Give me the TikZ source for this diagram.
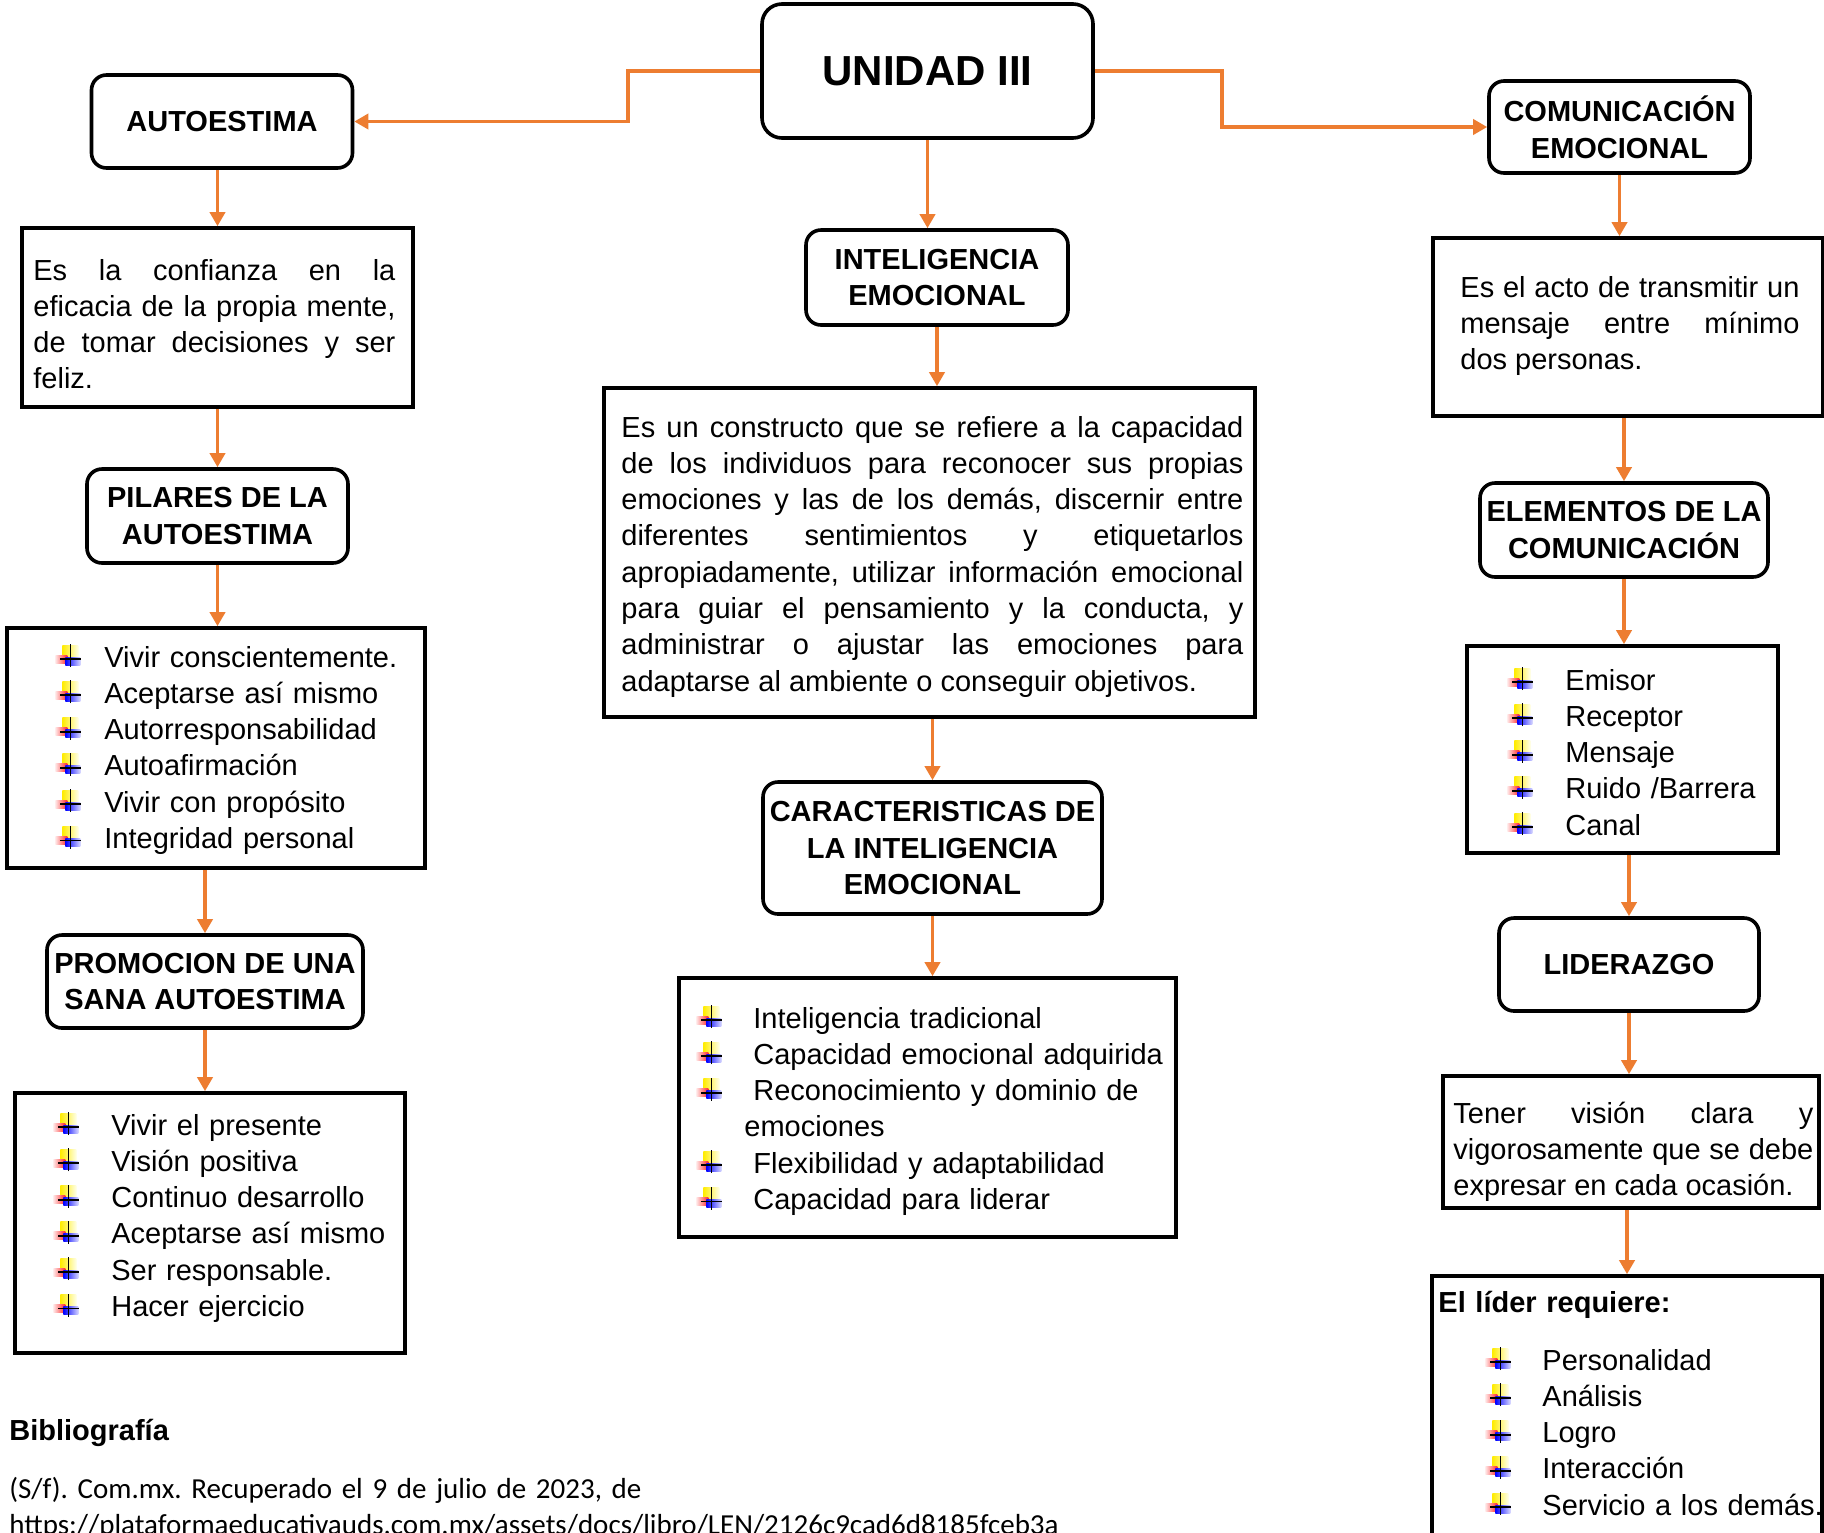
\documentclass[tikz,border=0pt]{standalone}
\usepackage{fontspec}
\setmainfont{Liberation Sans}
\newfontfamily\biblfont{Carlito}
\usetikzlibrary{arrows.meta}
\definecolor{arrorange}{HTML}{ED7D31}
\frenchspacing
\tolerance=10000
\hbadness=10000
\hfuzz=40pt

\newcommand{\bodyfont}{\fontsize{14.5}{18.15}\selectfont}
\newcommand{\headfont}{\fontsize{14.5}{18.3}\selectfont\bfseries}
% word style plus bullet
\newcommand{\plusbul}{\tikz[x=1pt,y=1pt,baseline=0pt,line width=0.9pt]{%
  \shade[left color=yellow!85!orange, right color=yellow!8] (3.5,3.5) rectangle (11.5,11);
  \shade[left color=red!10, right color=red!85] (0,2) rectangle (6,6);
  \shade[left color=blue, right color=blue!15] (5,1) rectangle (12.5,5);
  \draw (7.5,0) -- (7.5,11.5) (2.5,4) -- (13,4);}}
\newcommand{\bitem}[1][29pt]{\makebox[#1][l]{\plusbul}}

\tikzset{
    concept/.style={draw, line width=1.8pt, rounded corners=7.5pt, align=center, inner sep=1pt, font=\headfont},
    infobox/.style={draw, line width=1.8pt, inner sep=0pt},
    infotext/.style={anchor=base west, inner sep=0pt, font=\bodyfont, text width=#1},
    arr/.style={draw=arrorange, line width=1.8pt, -{Triangle[width=7.5pt,length=7pt]}}
}

\begin{document}
\begin{tikzpicture}[x=0.5pt,y=-0.5pt]
\path[fill=white, use as bounding box] (0,0) rectangle (1824,1532);

\node[concept, rounded corners=10pt, font=\fontsize{21}{25}\selectfont\bfseries, minimum width=165.5pt, minimum height=67pt] (unidad) at (927.5,71) {UNIDAD III};

% left column
\node[concept, minimum width=130.5pt, minimum height=46.5pt] (autoestima) at (222,121.5) {AUTOESTIMA};
\node[infobox, minimum width=195.5pt, minimum height=89.5pt] (autodef) at (217.5,317.5) {};
\node[infotext=181pt, align=justify] (autodeftxt) at (33,280) {Es la confianza en la\linebreak eficacia de la propia mente,\linebreak de tomar decisiones y ser\linebreak feliz.};
\node[concept, minimum width=130.5pt, minimum height=47pt] (pilares) at (217.5,516) {PILARES DE LA\\AUTOESTIMA};
\node[infobox, minimum width=209pt, minimum height=120pt] (pilareslist) at (216,748) {};
\node[infotext=190pt, align=left] (pilarestxt) at (55,667) {\bitem[24.5pt]Vivir conscientemente.\\\bitem[24.5pt]Aceptarse así mismo\\\bitem[24.5pt]Autorresponsabilidad\\\bitem[24.5pt]Autoafirmación\\\bitem[24.5pt]Vivir con propósito\\\bitem[24.5pt]Integridad personal};
\node[concept, minimum width=158pt, minimum height=46.5pt] (promo) at (205,981.5) {PROMOCION DE UNA\\SANA AUTOESTIMA};
\node[infobox, minimum width=195pt, minimum height=130pt] (promolist) at (210,1223) {};
\node[infotext=180pt, align=left] (promotxt) at (53,1135) {\bitem Vivir el presente\\\bitem Visión positiva\\\bitem Continuo desarrollo\\\bitem Aceptarse así mismo\\\bitem Ser responsable.\\\bitem Hacer ejercicio};

% middle column
\node[concept, minimum width=131pt, minimum height=47.5pt] (intel) at (937,277.5) {INTELIGENCIA\\EMOCIONAL};
\node[infobox, minimum width=325.5pt, minimum height=164.5pt] (inteldef) at (929.5,552.5) {};
\node[infotext=311pt, align=justify] (inteldeftxt) at (621,437) {Es un constructo que se refiere a la capacidad\linebreak de los individuos para reconocer sus propias\linebreak emociones y las de los demás, discernir entre\linebreak diferentes sentimientos y etiquetarlos\linebreak apropiadamente, utilizar información emocional\linebreak para guiar el pensamiento y la conducta, y\linebreak administrar o ajustar las emociones para\linebreak adaptarse al ambiente o conseguir objetivos.};
\node[concept, minimum width=169.5pt, minimum height=66pt] (caract) at (932.5,848) {CARACTERISTICAS DE\\LA INTELIGENCIA\\EMOCIONAL};
\node[infobox, minimum width=248.5pt, minimum height=129.5pt] (caractlist) at (927.5,1107.5) {};
\node[infotext=238pt, align=left] (caracttxt) at (696,1028) {\bitem[28.5pt]Inteligencia tradicional\\\bitem[28.5pt]Capacidad emocional adquirida\\\bitem[28.5pt]Reconocimiento y dominio de\\\hspace*{24pt}emociones\\\bitem[28.5pt]Flexibilidad y adaptabilidad\\\bitem[28.5pt]Capacidad para liderar};

% right column
\node[concept, minimum width=130.5pt, minimum height=46pt] (comun) at (1619.5,127) {COMUNICACIÓN\\EMOCIONAL};
\node[infobox, minimum width=195pt, minimum height=89pt] (comundef) at (1628,327) {};
\node[infotext=169.5pt, align=justify] (comundeftxt) at (1460,297) {Es el acto de transmitir un\linebreak mensaje entre mínimo\linebreak dos personas.};
\node[concept, minimum width=144pt, minimum height=47pt] (elem) at (1624,530) {ELEMENTOS DE LA\\COMUNICACIÓN};
\node[infobox, minimum width=155.5pt, minimum height=103.5pt] (elemlist) at (1622.5,749.5) {};
\node[infotext=130pt, align=left] (elemtxt) at (1507,690) {\bitem Emisor\\\bitem Receptor\\\bitem Mensaje\\\bitem Ruido /Barrera\\\bitem Canal};
\node[concept, minimum width=130pt, minimum height=46.5pt] (lider) at (1629,964.5) {LIDERAZGO};
\node[infobox, minimum width=188pt, minimum height=66pt] (liderdef) at (1631,1142) {};
\node[infotext=180pt, align=justify] (liderdeftxt) at (1453,1123) {Tener visión clara y\linebreak vigorosamente que se debe\linebreak expresar en cada ocasión.};
\node[infobox, minimum width=195pt, minimum height=142pt] (req) at (1627,1418) {};
\node[infotext=205pt, align=left] (reqtxt) at (1438,1312) {\textbf{El líder requiere:}\\[10.85pt]\hspace*{23.5pt}\bitem[28.5pt]Personalidad\\\hspace*{23.5pt}\bitem[28.5pt]Análisis\\\hspace*{23.5pt}\bitem[28.5pt]Logro\\\hspace*{23.5pt}\bitem[28.5pt]Interacción\\\hspace*{23.5pt}\bitem[28.5pt]Servicio a los demás.};

% bibliography
\node[infotext=560pt, align=left] (bibl) at (9,1440) {\textbf{Bibliografía}\\[10.85pt]\biblfont (S/f). Com.mx. Recuperado el 9 de julio de 2023, de\\https://plataformaeducativauds.com.mx/assets/docs/libro/LEN/2126c9cad6d8185fceb3a};

% connectors
\draw[arr] (unidad.west) -- ++(-132,0) |- (autoestima.east);
\draw[arr] (unidad.east) -- ++(127,0) |- (comun.west);
\draw[arr] (unidad.south) -- (unidad.south |- intel.north);
\draw[arr] (autodef.north |- autoestima.south) -- (autodef.north);
\draw[arr] (autodef.south) -- (autodef.south |- pilares.north);
\draw[arr] (pilares.south) -- (pilares.south |- pilareslist.north);
\draw[arr] (promo.north |- pilareslist.south) -- (promo.north);
\draw[arr] (promo.south) -- (promo.south |- promolist.north);
\draw[arr] (intel.south) -- (intel.south |- inteldef.north);
\draw[arr] (caract.north |- inteldef.south) -- (caract.north);
\draw[arr] (caract.south) -- (caract.south |- caractlist.north);
\draw[arr] (comun.south) -- (comun.south |- comundef.north);
\draw[arr] (elem.north |- comundef.south) -- (elem.north);
\draw[arr] (elem.south) -- (elem.south |- elemlist.north);
\draw[arr] (lider.north |- elemlist.south) -- (lider.north);
\draw[arr] (lider.south) -- (lider.south |- liderdef.north);
\draw[arr] (req.north |- liderdef.south) -- (req.north);
\end{tikzpicture}
\end{document}
